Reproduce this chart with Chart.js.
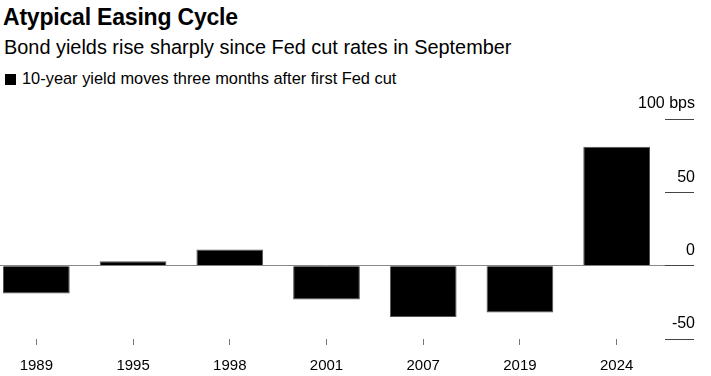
<!DOCTYPE html>
<html>
<head>
<meta charset="utf-8">
<script src="https://cdn.jsdelivr.net/npm/chart.js@4"></script>
<style>
  html, body { margin: 0; padding: 0; background: #fff; }
  body { width: 711px; height: 376px; position: relative; overflow: hidden; font-family: "Liberation Sans", Arial, sans-serif; color: #000; }
  .title { position: absolute; left: 3px; top: 6px; font-size: 23px; line-height: 23px; font-weight: bold; letter-spacing: -0.2px; }
  .subtitle { position: absolute; left: 4px; top: 38px; font-size: 19.9px; line-height: 19.9px; }
  .legend { position: absolute; left: 5px; top: 70px; font-size: 16.4px; line-height: 16.4px; }
  .legend .box { display: inline-block; width: 11px; height: 11px; background: #000; margin-right: 6px; vertical-align: -1px; }
  #wrap { position: absolute; left: -12px; top: 90px; width: 708px; height: 286px; }
</style>
</head>
<body>
<div class="title">Atypical Easing Cycle</div>
<div class="subtitle">Bond yields rise sharply since Fed cut rates in September</div>
<div class="legend"><span class="box"></span>10-year yield moves three months after first Fed cut</div>
<div id="wrap"><canvas id="chart"></canvas></div>
<script>
// 数据
const years = ['1989', '1995', '1998', '2001', '2007', '2019', '2024'];
const yieldMoves = [-19, 3, 11, -23, -35, -32, 81];
const yTicks = [100, 50, 0, -50];

const FONT = '"Liberation Sans", Arial, sans-serif';

new Chart(document.getElementById('chart'), {
    type: 'bar',
    data: {
        labels: years,
        datasets: [{
            label: '10-year yield moves three months after first Fed cut',
            data: yieldMoves,
            backgroundColor: '#000',
            borderColor: '#555',
            borderWidth: 1,
            categoryPercentage: 1,
            barPercentage: 0.69
        }]
    },
    options: {
        responsive: true,
        maintainAspectRatio: false,
        animation: false,
        layout: { padding: { top: 29, left: 0, right: 0, bottom: 0 } },
        plugins: {
            legend: { display: false },
            tooltip: { enabled: false }
        },
        scales: {
            x: {
                border: { display: false },
                grid: { offset: false, drawOnChartArea: false, drawTicks: true, tickLength: 6, tickColor: '#777' },
                ticks: { color: '#000', font: { family: FONT, size: 15 }, padding: 12, maxRotation: 0 },
                afterFit: scale => { scale.height = 37; scale.paddingLeft = 0; scale.paddingRight = 0; }
            },
            y: {
                position: 'right',
                min: -50,
                max: 100,
                border: { display: false },
                afterBuildTicks: scale => { scale.ticks = yTicks.map(v => ({ value: v })); },
                grid: {
                    drawOnChartArea: true,
                    drawTicks: true,
                    tickLength: 29,
                    // 只画零线
                    color: ctx => (ctx.tick && ctx.tick.value === 0) ? '#888' : 'rgba(0,0,0,0)',
                    tickColor: '#444'
                },
                ticks: {
                    color: '#000',
                    font: { family: FONT, size: 16 },
                    mirror: true,
                    crossAlign: 'near',
                    padding: 30,
                    labelOffset: -15,
                    callback: v => v === 100 ? '100 bps' : String(v)
                },
                afterFit: scale => { scale.width = 31; scale.paddingTop = 0; scale.paddingBottom = 0; }
            }
        }
    }
});
</script>
</body>
</html>
